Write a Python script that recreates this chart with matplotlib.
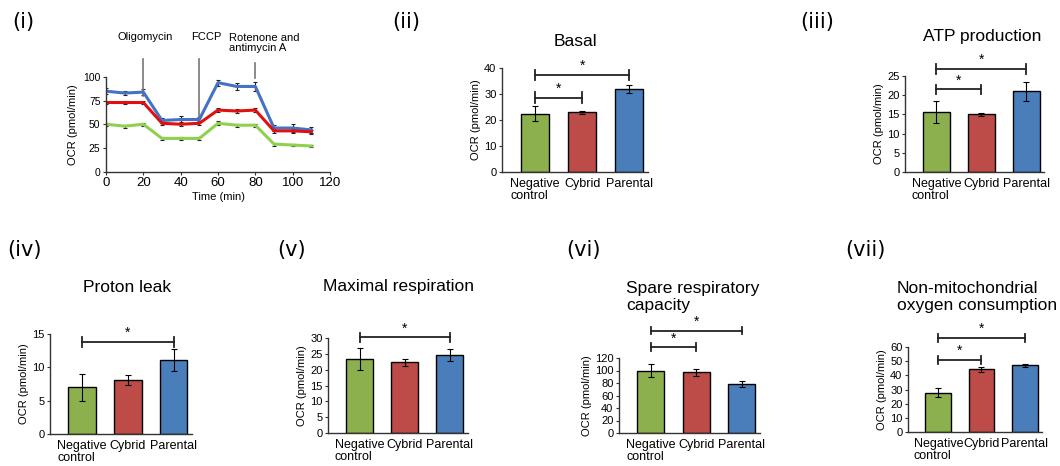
import matplotlib
matplotlib.use("Agg")
import matplotlib.pyplot as plt
import numpy as np

plt.rcParams["font.family"] = ["Liberation Sans", "DejaVu Sans"]

W, H = 1060, 466

# (i) OCR time course
time_min = [0, 10, 20, 30, 40, 50, 60, 70, 80, 90, 100, 110]
ocr_parental = [85, 83, 84, 54, 55, 55, 94, 90, 90, 46, 46, 44]
ocr_parental_err = [3, 2.5, 3, 2.5, 4, 3, 3, 4, 5, 3, 4, 3]
ocr_cybrid = [73, 73, 73, 51, 50, 51, 65, 64, 65, 43, 43, 42]
ocr_cybrid_err = [2, 2, 2, 2, 2, 2, 2.5, 2, 2.5, 2, 2, 2]
ocr_negative = [50, 48, 50, 35, 35, 35, 51, 49, 49, 29, 28, 27]
ocr_negative_err = [1.5, 1.5, 1.5, 2, 2, 1.5, 2, 1.5, 1.5, 1.5, 1.5, 1.5]

injections = ["Oligomycin", "FCCP", "Rotenone and\nantimycin A"]
injection_time = [20, 50, 80]

# bar panels
groups = ["Negative\ncontrol", "Cybrid", "Parental"]
bar_colors = ["#8DB04F", "#BD4B48", "#4A7EBB"]

basal_mean = [22.5, 23.0, 32.0]
basal_err = [3.0, 0.6, 1.5]
atp_mean = [15.6, 15.0, 21.0]
atp_err = [2.8, 0.4, 2.4]
leak_mean = [7.0, 8.1, 11.1]
leak_err = [2.0, 0.8, 1.6]
maxresp_mean = [23.3, 22.3, 24.6]
maxresp_err = [3.5, 1.2, 1.8]
spare_mean = [100, 97, 79]
spare_err = [11, 6, 5]
nonmito_mean = [27.8, 44.2, 47.0]
nonmito_err = [3.0, 2.0, 1.0]


def px_rect(l, t, r, b):
    return [l / W, 1 - b / H, (r - l) / W, (b - t) / H]


def strip(ax):
    for s in ("top", "right"):
        ax.spines[s].set_visible(False)
    for s in ("left", "bottom"):
        ax.spines[s].set_color("#333333")
        ax.spines[s].set_linewidth(1.0)


def bar_panel(fig, rect, means, errs, ylim, yticks, brackets):
    ax = fig.add_axes(rect)
    x = np.arange(len(groups))
    ax.bar(x, means, width=0.6, color=bar_colors, edgecolor="black", linewidth=1.0,
           yerr=errs, error_kw=dict(ecolor="black", elinewidth=0.8, capsize=2, capthick=0.8))
    ax.set_xlim(-0.7, 2.4)
    ax.set_ylim(*ylim)
    ax.set_yticks(yticks)
    ax.set_xticks(x)
    ax.set_xticklabels(groups, fontsize=9, multialignment="left", linespacing=1.1)
    ax.tick_params(axis="x", length=0, pad=4)
    ax.tick_params(axis="y", labelsize=8, length=2.5, pad=1.5, color="#333333")
    ax.set_ylabel("OCR (pmol/min)", fontsize=8, labelpad=2)
    strip(ax)
    span = ylim[1] - ylim[0]
    for i, j, yb in brackets:
        cap = 0.05 * span
        ax.plot([i, j], [yb, yb], color="#222222", lw=1.3, clip_on=False)
        for xc in (i, j):
            ax.plot([xc, xc], [yb - cap, yb + cap], color="#222222", lw=1.3, clip_on=False)
        ax.text((i + j) / 2, yb + 0.02 * span, "*", ha="center", va="bottom", fontsize=10)
    return ax


fig = plt.figure(figsize=(W / 100, H / 100), dpi=100)

# (i)
ax = fig.add_axes(px_rect(106, 77, 330, 171.5))
for vals, errs, col in [(ocr_parental, ocr_parental_err, "#4472C4"),
                        (ocr_cybrid, ocr_cybrid_err, "#E01010"),
                        (ocr_negative, ocr_negative_err, "#8FD14F")]:
    ax.errorbar(time_min, vals, yerr=errs, color=col, lw=2.2, ecolor="#222222",
                elinewidth=0.8, capsize=1.5, capthick=0.8)
ax.set_xlim(0, 120)
ax.set_ylim(0, 100)
ax.set_xticks(np.arange(0, 121, 20))
ax.set_yticks([0, 25, 50, 75, 100])
ax.tick_params(axis="x", labelsize=9.5, length=2.5, pad=1.5, color="#333333")
ax.tick_params(axis="y", labelsize=7.5, length=2.5, pad=1.5, color="#333333")
ax.set_xlabel("Time (min)", fontsize=8, labelpad=2)
ax.set_ylabel("OCR (pmol/min)", fontsize=8, labelpad=4)
strip(ax)
line_ends = [(119, 79.5), (119, 53), (115, 99)]
for t, (top, bot) in zip(injection_time, line_ends):
    ax.plot([t, t], [top, bot], color="#777777", lw=1.2, clip_on=False)
fig.text(145 / W, 1 - 37 / H, injections[0], ha="center", va="center", fontsize=8)
fig.text(206 / W, 1 - 37 / H, injections[1], ha="center", va="center", fontsize=8)
fig.text(229 / W, 1 - 43 / H, injections[2], ha="left", va="center", fontsize=8, linespacing=1.05)

# (ii)-(vii)
bar_panel(fig, px_rect(502, 68, 648, 172), basal_mean, basal_err, (0, 40),
          [0, 10, 20, 30, 40], [(0, 2, 37.4), (0, 1, 28.6)])
bar_panel(fig, px_rect(905, 76, 1044, 172), atp_mean, atp_err, (0, 25),
          [0, 5, 10, 15, 20, 25], [(0, 2, 26.8), (0, 1, 21.5)])
bar_panel(fig, px_rect(50, 334, 192, 434), leak_mean, leak_err, (0, 15),
          [0, 5, 10, 15], [(0, 2, 13.85)])
bar_panel(fig, px_rect(328, 338, 468, 433), maxresp_mean, maxresp_err, (0, 30),
          [0, 5, 10, 15, 20, 25, 30], [(0, 2, 30.2)])
bar_panel(fig, px_rect(619, 358, 760, 433), spare_mean, spare_err, (0, 120),
          [0, 20, 40, 60, 80, 100, 120], [(0, 2, 164), (0, 1, 137.6)])
bar_panel(fig, px_rect(908, 347, 1042, 432), nonmito_mean, nonmito_err, (0, 60),
          [0, 10, 20, 30, 40, 50, 60], [(0, 2, 66.4), (0, 1, 51)])

titles = [("Basal", 575, 42, "center"),
          ("ATP production", 982, 37, "center"),
          ("Proton leak", 127, 287, "center"),
          ("Maximal respiration", 398, 287, "center"),
          ("Spare respiratory\ncapacity", 626, 297, "left"),
          ("Non-mitochondrial\noxygen consumption", 897, 297, "left")]
for txt, x, y, ha in titles:
    fig.text(x / W, 1 - y / H, txt, ha=ha, va="center", fontsize=12.5, linespacing=1.15)

labels = [("(i)", 12, 22), ("(ii)", 392, 22), ("(iii)", 800, 22),
          ("(iv)", 7, 250), ("(v)", 277, 250), ("(vi)", 566, 250), ("(vii)", 845, 250)]
for txt, x, y in labels:
    fig.text(x / W, 1 - y / H, txt, ha="left", va="center", fontsize=15,
             family=["DejaVu Sans"])

fig.savefig("out.png", dpi=100)
